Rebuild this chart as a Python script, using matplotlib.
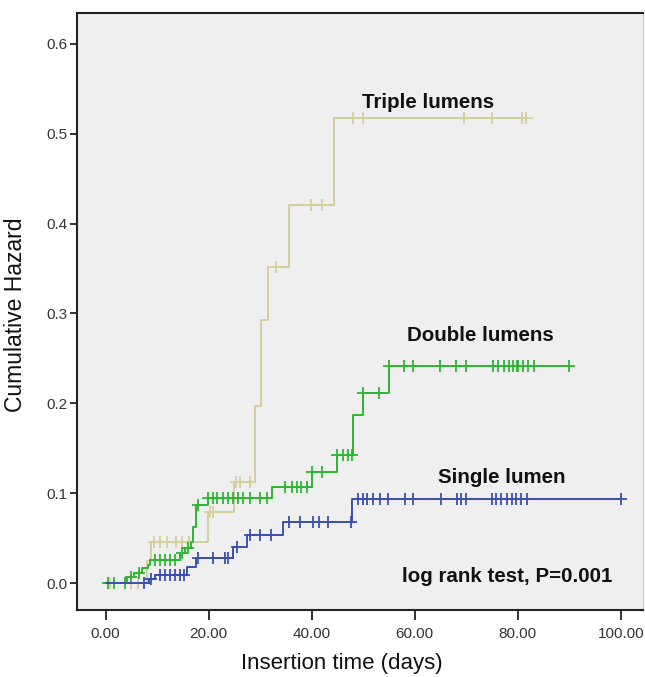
import numpy as np
import matplotlib
matplotlib.use("Agg")
import matplotlib.pyplot as plt

plt.rcParams["font.family"] = ["Liberation Sans", "DejaVu Sans"]

# === Data (step times in days, cumulative hazard) ===

TRIPLE_T = [0, 8.0, 8.8, 19.8, 25.0, 29.0, 30.2, 31.5, 35.5, 44.4, 82.7]
TRIPLE_H = [0, 0.024, 0.046, 0.079, 0.112, 0.197, 0.293, 0.352, 0.421, 0.517, 0.517]
TRIPLE_CENS = [0.8, 5.0, 6.3, 7.4, 9.3, 10.5, 12.0, 13.6, 14.9, 16.1, 20.2, 20.8,
               25.4, 26.0, 28.0, 33.0, 39.8, 41.9, 48.0, 49.9, 69.5, 74.9, 80.9, 81.6]

DOUBLE_T = [0, 4.1, 5.6, 7.0, 8.2, 8.7, 14.4, 15.5, 16.5, 16.9, 17.5, 19.8,
            32.2, 40.0, 45.0, 48.0, 50.0, 55.0, 90.0]
DOUBLE_H = [0, 0.007, 0.011, 0.017, 0.020, 0.026, 0.033, 0.039, 0.046, 0.062,
            0.087, 0.095, 0.107, 0.124, 0.142, 0.187, 0.211, 0.241, 0.241]
DOUBLE_CENS = [0.4, 1.7, 3.7, 5.0, 6.4, 9.5, 10.5, 11.5, 12.5, 13.5, 14.9, 16.0,
               18.0, 19.9, 20.8, 21.7, 22.7, 23.7, 24.7, 25.6, 26.6, 28.0, 29.9,
               31.3, 34.8, 36.1, 37.1, 38.0, 39.0, 40.0, 42.0, 45.0, 46.0, 47.0,
               47.9, 50.0, 53.1, 55.0, 57.9, 59.6, 64.9, 68.0, 70.0, 75.2, 76.2,
               77.3, 78.2, 79.1, 79.9, 80.1, 81.0, 82.0, 83.1, 90.0]

SINGLE_T = [0, 8.5, 9.5, 15.8, 17.5, 24.8, 27.5, 34.5, 47.8, 100]
SINGLE_H = [0, 0.004, 0.009, 0.018, 0.028, 0.040, 0.053, 0.068, 0.0935, 0.0935]
SINGLE_CENS = [7.5, 8.8, 10.5, 11.5, 12.4, 13.4, 14.4, 15.3, 17.9, 20.8, 23.1,
               23.7, 25.5, 28.0, 30.0, 32.0, 35.5, 37.7, 40.2, 41.5, 43.2, 47.7,
               49.0, 50.0, 50.7, 51.9, 53.2, 54.8, 58.1, 59.7, 65.0, 68.1, 69.0,
               70.0, 74.9, 75.8, 76.8, 77.8, 78.8, 79.7, 80.7, 81.7, 100]

X_TICKS = [0, 20, 40, 60, 80, 100]
Y_TICKS = [0.0, 0.1, 0.2, 0.3, 0.4, 0.5, 0.6]

COLORS = {"Triple": "#d5cf9e", "Double": "#2fb534", "Single": "#3c4fb0"}


def step_value(times, haz, t):
    idx = np.searchsorted(times, t, side="right") - 1
    return np.asarray(haz)[idx]


fig = plt.figure(figsize=(6.45, 6.77), dpi=100)
ax = fig.add_axes([0.119, 0.099, 0.878, 0.882])
ax.set_facecolor("#efefef")

groups = [
    ("Triple", TRIPLE_T, TRIPLE_H, TRIPLE_CENS),
    ("Double", DOUBLE_T, DOUBLE_H, DOUBLE_CENS),
    ("Single", SINGLE_T, SINGLE_H, SINGLE_CENS),
]
for name, t, h, cens in groups:
    ax.step(t, h, where="post", color=COLORS[name], linewidth=1.4)
    cy = step_value(np.array(t), h, np.array(cens))
    ax.plot(cens, cy, linestyle="none", marker="+", markersize=8,
            markeredgewidth=1.3, color=COLORS[name])

# Group labels
lab = dict(fontsize=14.8, fontweight="bold", color="#111111", va="center")
ax.text(49.7, 0.535, "Triple lumens", **lab)
ax.text(58.4, 0.276, "Double lumens", **lab)
ax.text(64.5, 0.117, "Single lumen", **lab)
ax.text(57.5, 0.007, "log rank test, P=0.001", **lab)

ax.set_xlim(-5.6, 104.3)
ax.set_ylim(-0.030, 0.6345)
ax.set_xticks(X_TICKS)
ax.set_xticklabels([f"{v:.2f}" for v in X_TICKS])
ax.set_yticks(Y_TICKS)
ax.set_yticklabels([f"{v:.1f}" for v in Y_TICKS])
ax.tick_params(axis="both", direction="out", colors="#222222", labelcolor="#333333",
               labelsize=11, width=1.3)
ax.tick_params(axis="x", length=7, pad=5)
ax.tick_params(axis="y", length=5, pad=2)

for side in ["left", "bottom", "top"]:
    ax.spines[side].set_color("#222222")
    ax.spines[side].set_linewidth(1.5)
ax.spines["right"].set_color("#cccccc")
ax.spines["right"].set_linewidth(1.0)

ax.set_xlabel("Insertion time (days)", fontsize=16, color="#111111")
ax.xaxis.set_label_coords(0.468, -0.072)
ax.set_ylabel("Cumulative Hazard", fontsize=16.5, color="#111111")
ax.yaxis.set_label_coords(-0.087, 0.494)

fig.savefig("out.png", dpi=100, facecolor="white")
